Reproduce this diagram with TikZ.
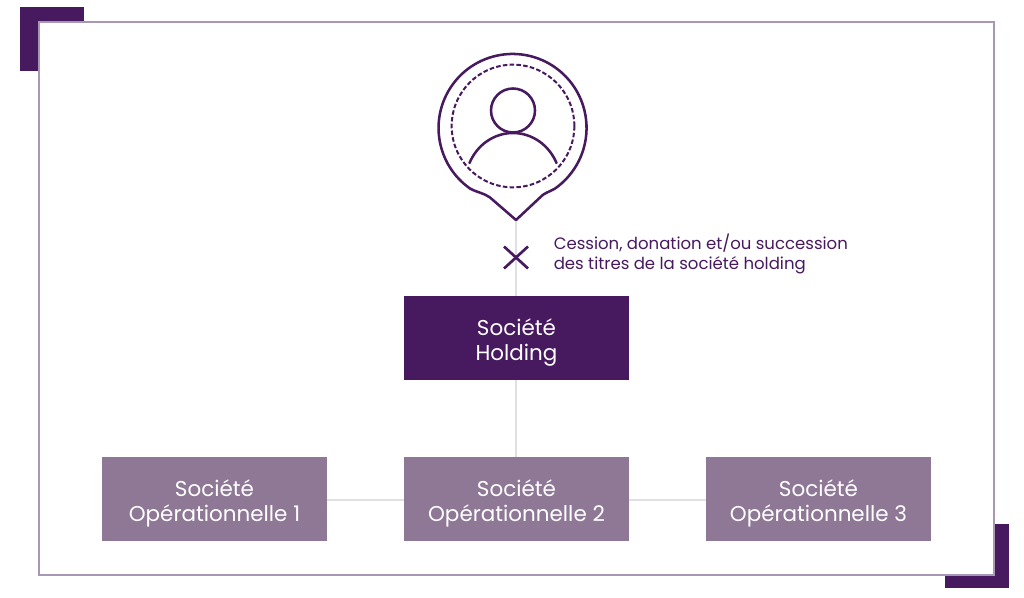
\documentclass[tikz,border=0pt]{standalone}
\usepackage{fontspec}
\setmainfont{Poppins}
\definecolor{plum}{HTML}{47195F}
\definecolor{mauve}{HTML}{8E7896}
\definecolor{framec}{HTML}{A898B4}
\definecolor{linkc}{HTML}{E2DFE4}
% tall strut that sets the two lines of a box slightly below its centre
\newcommand{\lowerlines}{\rule{0pt}{19pt}}
\begin{document}
\begin{tikzpicture}[x=0.75pt,y=-0.75pt,
  company/.style={minimum width=168.75pt,minimum height=63pt,inner sep=0pt,align=center,text=white,font=\fontsize{16.1}{18.4}\selectfont},
  holding/.style={company,fill=plum},
  operating/.style={company,fill=mauve},
  link/.style={draw=linkc,line width=1.5pt},
  pin/.style={draw=plum,line width=1.9pt,line join=round}]
\useasboundingbox (0,0) rectangle (1024,598);
\fill[white] (0,0) rectangle (1024,598);
% corner brackets behind the frame
\fill[plum] (20,7) rectangle (84,71);
\fill[plum] (945,524) rectangle (1009,588);
\draw[draw=framec,line width=1.2pt,fill=white] (39,22) rectangle (994,575);
% company boxes
\node[holding] (h) at (516.5,338) {\lowerlines Société\\Holding};
\node[operating] (o1) at (214.5,499) {\lowerlines Société\\Opérationnelle 1};
\node[operating] (o2) at (516.5,499) {\lowerlines Société\\Opérationnelle 2};
\node[operating] (o3) at (818.5,499) {\lowerlines Société\\Opérationnelle 3};
% ownership links
\coordinate (tip) at (516,220);
\coordinate (c) at (516,257.5);
\draw[link] (tip) -- (tip |- h.north);
\draw[link] (tip |- h.south) -- (tip |- o2.north);
\draw[link] ([yshift=-0.75pt]o1.east) -- ([yshift=-0.75pt]o2.west);
\draw[link] ([yshift=-0.75pt]o2.east) -- ([yshift=-0.75pt]o3.west);
% owner pin
\draw[pin] (tip) -- (490,197.5) .. controls (484,193) and (477,192.5) .. (470,188.5)
  arc[start angle=125.1,end angle=414.9,radius=74]
  .. controls (548,192.5) and (544,193) .. (540,197.5) -- cycle;
\draw[pin,line width=1.5pt,dash pattern=on 3.4pt off 1.7pt] (513,126) circle[radius=46pt];
\node[circle,draw=plum,line width=1.9pt,minimum size=33pt,inner sep=0pt] (head) at (513,110.5) {};
\draw[pin,line cap=round] (469.5,163) .. controls (477,145) and (494,133) .. (513,133) .. controls (532,133) and (549,145) .. (556.5,163);
% cross on the link
\draw[plum,line width=2pt] ([shift={(-12,-11)}]c) -- ([shift={(12,11)}]c);
\draw[plum,line width=2pt] ([shift={(-12,11)}]c) -- ([shift={(12,-11)}]c);
\node[anchor=west,align=left,text=plum,inner sep=0pt,font=\fontsize{12.4}{15}\selectfont] (note) at (553.5,253.7) {Cession, donation et/ou succession\\des titres de la société holding};
\end{tikzpicture}
\end{document}
